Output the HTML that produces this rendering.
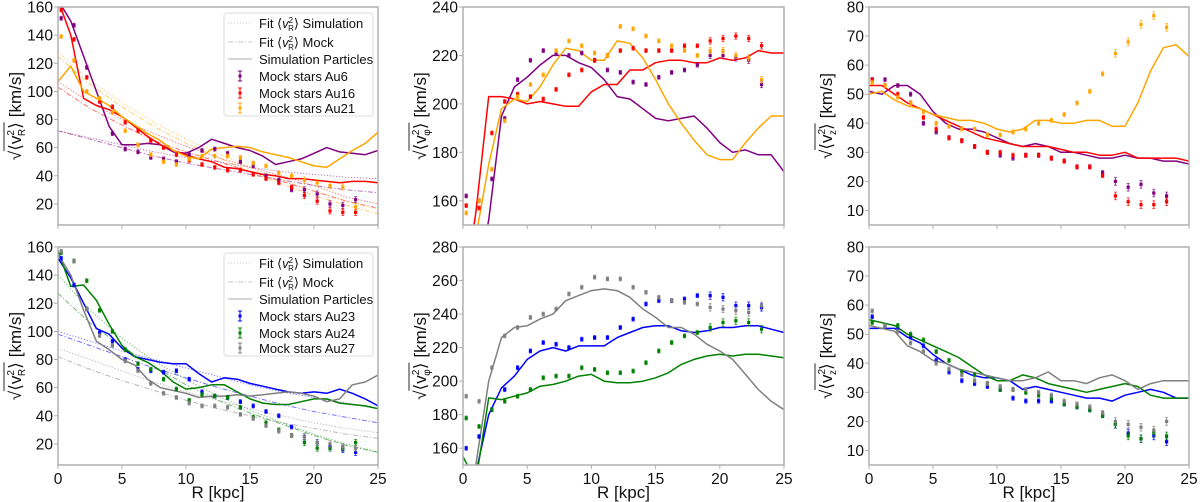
<!DOCTYPE html>
<html><head><meta charset="utf-8">
<style>
html,body{margin:0;padding:0;background:#fff;}
svg{display:block;font-family:"Liberation Sans","DejaVu Sans",sans-serif;}
</style></head>
<body>
<svg id="chart" width="1200" height="502" viewBox="0 0 1200 502" xmlns="http://www.w3.org/2000/svg">
<defs></defs>
</svg>
<script>
// ---------- data ----------
const lineR = [0,1,2,3,4,5,6,7,8,9,10,11,12,13,14,15,16,17,18,19,20,21,22,23,24,25];
const dotR = [0.25,1.25,2.25,3.25,4.25,5.25,6.25,7.25,8.25,9.25,10.25,11.25,12.25,13.25,14.25,15.25,16.25,17.25,18.25,19.25,20.25,21.25,22.25,23.25];
const fitR = [0,2.5,5,7.5,10,12.5,15,17.5,20,22.5,25];
const xTicks = [0,5,10,15,20,25];

// Panel A: v_R, top (Au6, Au16, Au21)
const aLineAu6 = [165,150,125,100,75,62,62,63,62,57,56,60,66,63,60,58,54,48,50,52,56,60,57,56,55,58];
const aLineAu16 = [165,140,95,90,87,82,75,68,62,58,55,52,50,46,45,43,41,40,38,38,37,36,35,36,36,35];
const aLineAu21 = [107,118,100,95,90,82,76,70,65,58,54,52,59,60,61,60,57,55,53,50,47,46,52,58,63,71];
const aDotAu6 = [152,147,117,93,70,59,57,53,52,50,55,58,59,56,50,47,40,37,30,30,27,20,19,23];
const aDotAu16 = [158,137,110,93,89,78,72,65,60,55,51,48,46,44,44,41,38,35,32,26,22,15,14,14];
const aDotAu21 = [139,122,100,95,85,72,62,55,50,48,52,54,54,54,53,49,47,42,40,37,35,33,32,18];
const aFitSimAu6 = [72,67,62,57,53,50,46,43,41,39,38];
const aFitMockAu6 = [72,66,60,54,49,45,41,37,33,30,28];
const aFitSimAu16 = [107,92,80,70,61,53,46,40,33,25,20];
const aFitMockAu16 = [103,88,76,65,57,50,43,36,29,22,17];
const aFitSimAu21 = [128,108,92,78,66,56,46,37,29,22,16];
const aFitMockAu21 = [125,105,89,75,63,53,43,34,26,19,13];
const aYTicks = [20,40,60,80,100,120,140,160];

// Panel B: v_phi, top
const bLineAu6 = [100,125,152,195,207,211,216,220,220,217,215,210,203,202,198,194,193,194,195,190,184,180,181,179,179,172];
const bLineAu16 = [120,155,203,203,202,200,201,200,199,199,205,208,208,214,214,217,218,218,217,217,219,218,219,222,221,221];
const bLineAu21 = [110,145,175,198,202,201,207,216,223,222,218,218,226,225,219,210,200,192,185,179,177,177,184,190,195,195];
const bDotAu6 = [162,160,169,194,210,218,222,221,220,221,218,214,213,209,208,211,213,214,216,220,220,219,218,208];
const bDotAu16 = [158,157,188,201,204,203,202,206,212,214,218,220,222,223,222,222,222,224,224,226,227,228,227,224];
const bDotAu21 = [155,160,173,193,203,208,212,222,226,224,221,220,232,231,228,226,224,222,220,222,222,220,219,210];
const bYTicks = [160,180,200,220,240];

// Panel C: v_z, top
const cLineAu6 = [51,50,53,53,50,44,40,38,38,37,35,33,32,33,32,30,30,29,28,28,29,28,28,27,27,26];
const cLineAu16 = [53,53,50,47,45,43,41,39,37,35,34,33,32,32,32,31,30,30,29,29,30,28,28,28,28,27];
const cLineAu21 = [50,51,48,46,45,43,42,41,41,40,38,37,38,41,41,40,40,41,41,39,39,47,58,66,67,63];
const cDotAu6 = [55,55,53,50,40,37,35,34,32,30,29,28,29,29,28,27,25,25,23,20,18,19,16,15];
const cDotAu16 = [55,53,50,47,42,38,35,34,32,30,30,29,29,29,28,27,25,25,22,15,13,12,12,13];
const cDotAu21 = [54,53,49,47,44,40,39,38,38,36,36,37,38,40,41,43,47,51,57,64,68,74,77,73];
const cYTicks = [10,20,30,40,50,60,70,80];

// Panel D: v_R, bottom (Au23, Au24, Au27)
const dLineAu23 = [152,138,120,102,98,88,82,80,78,77,77,70,64,67,66,63,61,59,57,56,57,56,59,56,52,47];
const dLineAu24 = [157,132,133,122,105,90,82,78,72,64,59,60,62,62,57,52,49,48,48,50,52,52,49,48,47,45];
const dLineAu27 = [155,140,115,93,87,80,76,66,60,58,56,53,54,54,55,54,55,56,57,56,54,50,52,62,64,69];
const dDotAu23 = [152,133,116,99,93,80,73,72,71,72,66,57,54,53,50,47,43,40,32,25,21,18,16,14];
const dDotAu24 = [156,150,136,115,100,87,77,73,66,59,51,55,54,53,46,39,35,30,26,21,17,17,17,21];
const dDotAu27 = [157,150,116,97,90,79,72,63,56,53,49,47,47,46,41,38,33,29,26,25,21,20,18,17];
const dFitSimAu23 = [100,93,86,80,74,68,62,57,53,49,45];
const dFitMockAu23 = [98,90,82,74,67,60,54,48,43,39,35];
const dFitSimAu24 = [140,115,95,79,66,54,44,35,27,20,14];
const dFitMockAu24 = [127,106,89,75,62,51,42,34,26,19,14];
const dFitSimAu27 = [88,80,72,64,57,51,45,40,35,31,28];
const dFitMockAu27 = [82,73,65,58,51,45,40,35,31,27,24];
const dYTicks = [20,40,60,80,100,120,140,160];

// Panel E: v_phi, bottom
const eLineAu23 = [130,145,180,196,203,213,218,220,218,221,221,221,226,229,232,233,233,230,229,230,232,232,233,233,231,229];
const eLineAu24 = [155,140,190,189,191,193,197,198,200,203,204,200,199,199,200,202,205,210,213,215,216,215,216,216,215,214];
const eLineAu27 = [120,150,200,226,232,233,237,240,248,251,254,255,254,250,243,238,232,232,228,222,218,213,204,195,188,183];
const eDotAu23 = [160,167,183,195,208,218,223,222,220,225,226,226,232,237,246,248,248,249,251,251,250,245,245,244];
const eDotAu24 = [178,173,183,188,191,195,202,203,203,208,207,205,205,206,211,218,223,227,229,232,235,236,235,231];
const eDotAu27 = [191,188,208,227,232,238,240,243,252,256,262,261,261,256,253,250,248,247,246,244,243,242,241,245];
const eYTicks = [160,180,200,220,240,260,280];

// Panel F: v_z, bottom
const fLineAu23 = [52,52,52,49,47,43,40,38,36,35,35,34,31,32,31,30,29,28,28,27,29,30,31,30,28,28];
const fLineAu24 = [55,54,53,50,48,46,44,42,39,36,34,34,36,35,33,32,31,30,31,32,33,32,29,28,28,28];
const fLineAu27 = [53,52,51,46,44,41,40,38,37,36,35,34,34,35,37,34,34,33,35,36,34,31,33,34,34,34];
const fDotAu23 = [56,53,52,49,46,41,37,34,33,32,31,28,27,27,27,26,25,24,22,19,16,14,15,13];
const fDotAu24 = [54,53,53,50,48,44,41,37,36,33,31,31,30,29,28,26,25,24,22,19,15,14,16,15];
const fDotAu27 = [58,53,51,47,44,40,38,36,34,33,32,31,31,30,29,27,26,25,23,20,19,18,17,20];
const fYTicks = [10,20,30,40,50,60,70,80];

// ---------- rendering ----------
const NS = 'http://www.w3.org/2000/svg';
const svg = document.getElementById('chart');
const defs = svg.querySelector('defs');
function mk(tag, attrs, parent){
  const e = document.createElementNS(NS, tag);
  for (const k in attrs) e.setAttribute(k, attrs[k]);
  (parent||svg).appendChild(e);
  return e;
}
const C = {purple:'#800080', red:'#ff0000', orange:'#ffa500', blue:'#0000ff', green:'#008000', gray:'#808080'};
const COLS = {x0:[58,463,869], x1:[378,784,1189]};
const ROWS = {t:[7,247], b:[225,465]};

function drawPanel(id, col, row, yMin, yMax, yTicks, series, fits, yLabelSub, showXLabels){
  const x0 = COLS.x0[col], x1 = COLS.x1[col], yT = ROWS.t[row], yB = ROWS.b[row];
  const sx = v => x0 + (v - 0) / 25 * (x1 - x0);
  const sy = v => yB - (v - yMin) / (yMax - yMin) * (yB - yT);
  const g = mk('g', {});
  
  
  const cp = mk('clipPath', {id: 'clip-' + id}, defs);
  mk('rect', {x: x0, y: yT, width: x1 - x0, height: yB - yT}, cp);
  const plot = mk('g', {'clip-path': 'url(#clip-' + id + ')'}, g);
  
  
  fits.forEach(f => {
    const pts = fitR.map((r, i) => sx(r).toFixed(1) + ',' + sy(f.vals[i]).toFixed(1)).join(' ');
    const pl = mk('polyline', {points: pts, fill: 'none', stroke: f.color, 'stroke-width': 1, opacity: 0.55,
      'stroke-dasharray': f.kind === 'sim' ? '1.2,1.8' : '5,2,1.2,2'}, plot);
    
    
  });
  series.forEach(s => {
    const pts = lineR.map((r, i) => sx(r).toFixed(1) + ',' + sy(s.line[i]).toFixed(1)).join(' ');
    const pl = mk('polyline', {points: pts, fill: 'none', stroke: s.color, 'stroke-width': 1.5, 'stroke-linejoin': 'round'}, plot);
    
    
  });
  series.forEach(s => {
    const dg = mk('g', {}, plot);
    
    
    dotR.forEach((r, i) => {
      const cx = sx(r), cy = sy(s.dots[i]);
      const e = Math.max(2, (i > 18 ? 2.2 : 1.2) * (yB - yT) / (yMax - yMin) * (yMax - yMin > 100 ? 1 : 0.6));
      mk('line', {x1: cx, x2: cx, y1: cy - e, y2: cy + e, stroke: s.color, 'stroke-width': 1, opacity: 0.8}, dg);
      mk('line', {x1: cx - 1.5, x2: cx + 1.5, y1: cy - e, y2: cy - e, stroke: s.color, 'stroke-width': 0.8, opacity: 0.8}, dg);
      mk('line', {x1: cx - 1.5, x2: cx + 1.5, y1: cy + e, y2: cy + e, stroke: s.color, 'stroke-width': 0.8, opacity: 0.8}, dg);
      const d = mk('rect', {x: cx - 1.6, y: cy - 1.6, width: 3.2, height: 3.2, fill: s.color}, dg);
      
      
    });
  });
  const fr = mk('rect', {x: x0, y: yT, width: x1 - x0, height: yB - yT, fill: 'none', stroke: '#b0b0b0', 'stroke-width': 1.5}, g);
  
  
  const yg = mk('g', {}, g);
  
  
  yTicks.forEach(t => {
    const y = sy(t);
    mk('line', {x1: x0 - 4, x2: x0, y1: y, y2: y, stroke: '#b0b0b0', 'stroke-width': 1}, yg);
    const tx = mk('text', {x: x0 - 5, y: y + 5.5, 'text-anchor': 'end', 'font-size': 15.5, fill: '#111'}, yg);
    tx.textContent = t;
  });
  const xg = mk('g', {}, g);
  
  
  xTicks.forEach(t => {
    const x = sx(t);
    mk('line', {x1: x, x2: x, y1: yB, y2: yB + 4, stroke: '#b0b0b0', 'stroke-width': 1}, xg);
    if (showXLabels) {
      const tx = mk('text', {x: x, y: yB + 19, 'text-anchor': 'middle', 'font-size': 15.5, fill: '#111'}, xg);
      tx.textContent = t;
    }
  });
  if (showXLabels) {
    const xl = mk('text', {x: (x0 + x1) / 2, y: 498, 'text-anchor': 'middle', 'font-size': 17, fill: '#111'}, xg);
    xl.textContent = 'R [kpc]';
    
    
  }
  // y label
  const lx = x0 - 37, ly = (yT + yB) / 2;
  const lg = mk('g', {transform: 'translate(' + lx + ',' + ly + ') rotate(-90)'}, g);
  
  
  const t1 = mk('text', {x: 0, y: 0, 'font-size': 17, fill: '#111'}, lg);
  t1.innerHTML = '√<tspan>⟨v</tspan><tspan dy="-7" font-size="10">2</tspan><tspan dx="-6" dy="11" font-size="10">' + yLabelSub + '</tspan><tspan dy="-4">⟩</tspan>';
  const w1 = t1.getBBox().width;
  const t2 = mk('text', {x: w1 + 5, y: 0, 'font-size': 17, fill: '#111'}, lg);
  t2.textContent = '[km/s]';
  const total = w1 + 5 + t2.getBBox().width;
  const off = -total / 2;
  t1.setAttribute('x', off);
  t2.setAttribute('x', off + w1 + 5);
  mk('line', {x1: off + 9, x2: off + w1, y1: -17, y2: -17, stroke: '#111', 'stroke-width': 0.9}, lg);
}

function legend(x, y, names, colors){
  const g = mk('g', {});
  
  
  mk('rect', {x: x, y: y, width: 149, height: 103, rx: 3, fill: '#fff', 'fill-opacity': 0.85, stroke: '#ddd', 'stroke-width': 1}, g);
  const rows = [10, 29, 46, 63, 80, 95];
  const labels = ['Fit ⟨v²_R⟩ Simulation', 'Fit ⟨v²_R⟩ Mock', 'Simulation Particles'];
  const dash = ['1.2,1.8', '5,2,1.2,2', ''];
  for (let i = 0; i < 3; i++) {
    const ey = y + rows[i];
    const e = mk('g', {}, g);
    
    
    const ln = mk('line', {x1: x + 4, x2: x + 28, y1: ey, y2: ey, stroke: '#c8c8c8', 'stroke-width': i === 2 ? 1.5 : 1}, e);
    if (dash[i]) ln.setAttribute('stroke-dasharray', dash[i]);
    const t = mk('text', {x: x + 35, y: ey + 5, 'font-size': 13, fill: '#111'}, e);
    if (i < 2) t.innerHTML = 'Fit ⟨<tspan font-style="italic">v</tspan><tspan dy="-5" font-size="8">2</tspan><tspan dx="-5" dy="8" font-size="8">R</tspan><tspan dy="-3">⟩ ' + (i === 0 ? 'Simulation' : 'Mock') + '</tspan>';
    else t.textContent = labels[i];
  }
  for (let i = 0; i < 3; i++) {
    const ey = y + rows[i + 3];
    const e = mk('g', {}, g);
    
    
    mk('line', {x1: x + 16, x2: x + 16, y1: ey - 5, y2: ey + 5, stroke: colors[i], 'stroke-width': 1}, e);
    mk('line', {x1: x + 14, x2: x + 18, y1: ey - 5, y2: ey - 5, stroke: colors[i], 'stroke-width': 1}, e);
    mk('line', {x1: x + 14, x2: x + 18, y1: ey + 5, y2: ey + 5, stroke: colors[i], 'stroke-width': 1}, e);
    mk('rect', {x: x + 14.5, y: ey - 1.5, width: 3, height: 3, fill: colors[i]}, e);
    const t = mk('text', {x: x + 35, y: ey + 5, 'font-size': 13, fill: '#111'}, e);
    t.textContent = 'Mock stars ' + names[i];
  }
}

const topS = (l1,l2,l3,d1,d2,d3) => [
  {name:'au6', color:C.purple, line:l1, dots:d1},
  {name:'au16', color:C.red, line:l2, dots:d2},
  {name:'au21', color:C.orange, line:l3, dots:d3}];
const botS = (l1,l2,l3,d1,d2,d3) => [
  {name:'au23', color:C.blue, line:l1, dots:d1},
  {name:'au24', color:C.green, line:l2, dots:d2},
  {name:'au27', color:C.gray, line:l3, dots:d3}];

drawPanel('vr-top', 0, 0, 5, 160, aYTicks, topS(aLineAu6,aLineAu16,aLineAu21,aDotAu6,aDotAu16,aDotAu21), [
  {name:'fit-sim-au6', color:C.purple, kind:'sim', vals:aFitSimAu6},
  {name:'fit-mock-au6', color:C.purple, kind:'mock', vals:aFitMockAu6},
  {name:'fit-sim-au16', color:C.red, kind:'sim', vals:aFitSimAu16},
  {name:'fit-mock-au16', color:C.red, kind:'mock', vals:aFitMockAu16},
  {name:'fit-sim-au21', color:C.orange, kind:'sim', vals:aFitSimAu21},
  {name:'fit-mock-au21', color:C.orange, kind:'mock', vals:aFitMockAu21}], 'R', false);
drawPanel('vphi-top', 1, 0, 150, 240, bYTicks, topS(bLineAu6,bLineAu16,bLineAu21,bDotAu6,bDotAu16,bDotAu21), [], 'φ', false);
drawPanel('vz-top', 2, 0, 5, 80, cYTicks, topS(cLineAu6,cLineAu16,cLineAu21,cDotAu6,cDotAu16,cDotAu21), [], 'z', false);
drawPanel('vr-bottom', 0, 1, 5, 160, dYTicks, botS(dLineAu23,dLineAu24,dLineAu27,dDotAu23,dDotAu24,dDotAu27), [
  {name:'fit-sim-au23', color:C.blue, kind:'sim', vals:dFitSimAu23},
  {name:'fit-mock-au23', color:C.blue, kind:'mock', vals:dFitMockAu23},
  {name:'fit-sim-au24', color:C.green, kind:'sim', vals:dFitSimAu24},
  {name:'fit-mock-au24', color:C.green, kind:'mock', vals:dFitMockAu24},
  {name:'fit-sim-au27', color:C.gray, kind:'sim', vals:dFitSimAu27},
  {name:'fit-mock-au27', color:C.gray, kind:'mock', vals:dFitMockAu27}], 'R', true);
drawPanel('vphi-bottom', 1, 1, 150, 280, eYTicks, botS(eLineAu23,eLineAu24,eLineAu27,eDotAu23,eDotAu24,eDotAu27), [], 'φ', true);
drawPanel('vz-bottom', 2, 1, 5, 80, fYTicks, botS(fLineAu23,fLineAu24,fLineAu27,fDotAu23,fDotAu24,fDotAu27), [], 'z', true);

legend(224, 13, ['Au6','Au16','Au21'], [C.purple, C.red, C.orange]);
legend(224, 253, ['Au23','Au24','Au27'], [C.blue, C.green, C.gray]);
</script>
</body></html>
